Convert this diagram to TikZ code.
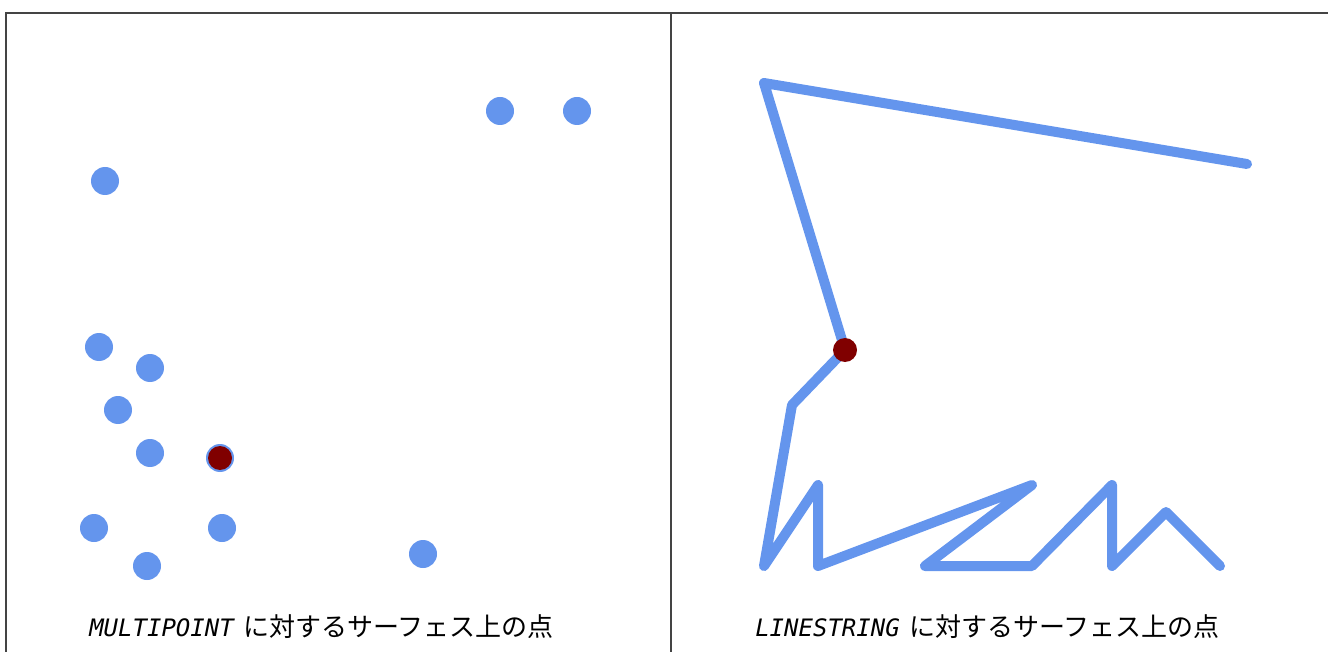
\documentclass[tikz,border=0pt]{standalone}
\usepackage{fontspec}
\setmonofont{DejaVu Sans Mono}
\newfontfamily\cjk{Noto Sans CJK JP}
\usetikzlibrary{positioning}
\definecolor{cblue}{HTML}{6495ED}
\definecolor{cmaroon}{HTML}{800000}
\definecolor{cframe}{HTML}{444444}
\tikzset{
  frameline/.style={cframe, line width=1.2pt},
  bluedot/.style={fill=cblue},
  hitdot/.style={fill=cmaroon},
  geomline/.style={cblue, line width=7.5pt, line cap=round, line join=round},
  caption/.style={anchor=base west, inner sep=0pt}
}
\newcommand{\geomname}[1]{{\fontsize{18}{21}\selectfont\ttfamily\itshape #1}}
\newcommand{\captail}{{\fontsize{19.5}{22}\selectfont\cjk に対するサーフェス上の点}}
\begin{document}
\begin{tikzpicture}[x=0.75pt, y=-0.75pt]
  \useasboundingbox (0,0) rectangle (1328,652);

  % Table frame
  \draw[frameline] (6,652) -- (6,13) -- (1328,13);
  \draw[frameline] (671,13) -- (671,652);

  % Left panel: multipoint
  \foreach \px/\py in {500/111, 577/111, 105/181, 99/347, 150/368, 118/410,
                       150/453, 220/458, 94/528, 222/528, 147/566, 423/554}{
    \fill[bluedot] (\px,\py) circle (10.5pt);
  }
  \fill[hitdot] (220,458) circle (9pt);

  % Right panel: linestring
  \draw[geomline] (1247,164) -- (764,83) -- (845,350) -- (792,405) -- (764,566)
    -- (818,485) -- (818,566) -- (1032,485) -- (925,566) -- (1032,566)
    -- (1112,485) -- (1112,566) -- (1166,512) -- (1220,566);
  \fill[hitdot] (845,350) circle (9pt);

  % Captions
  \node[caption] (capleft) at (89,636) {\geomname{MULTIPOINT}\hspace{7pt}\captail};
  \node[caption] (capright) at (755,636) {\geomname{LINESTRING}\hspace{7pt}\captail};
\end{tikzpicture}
\end{document}
